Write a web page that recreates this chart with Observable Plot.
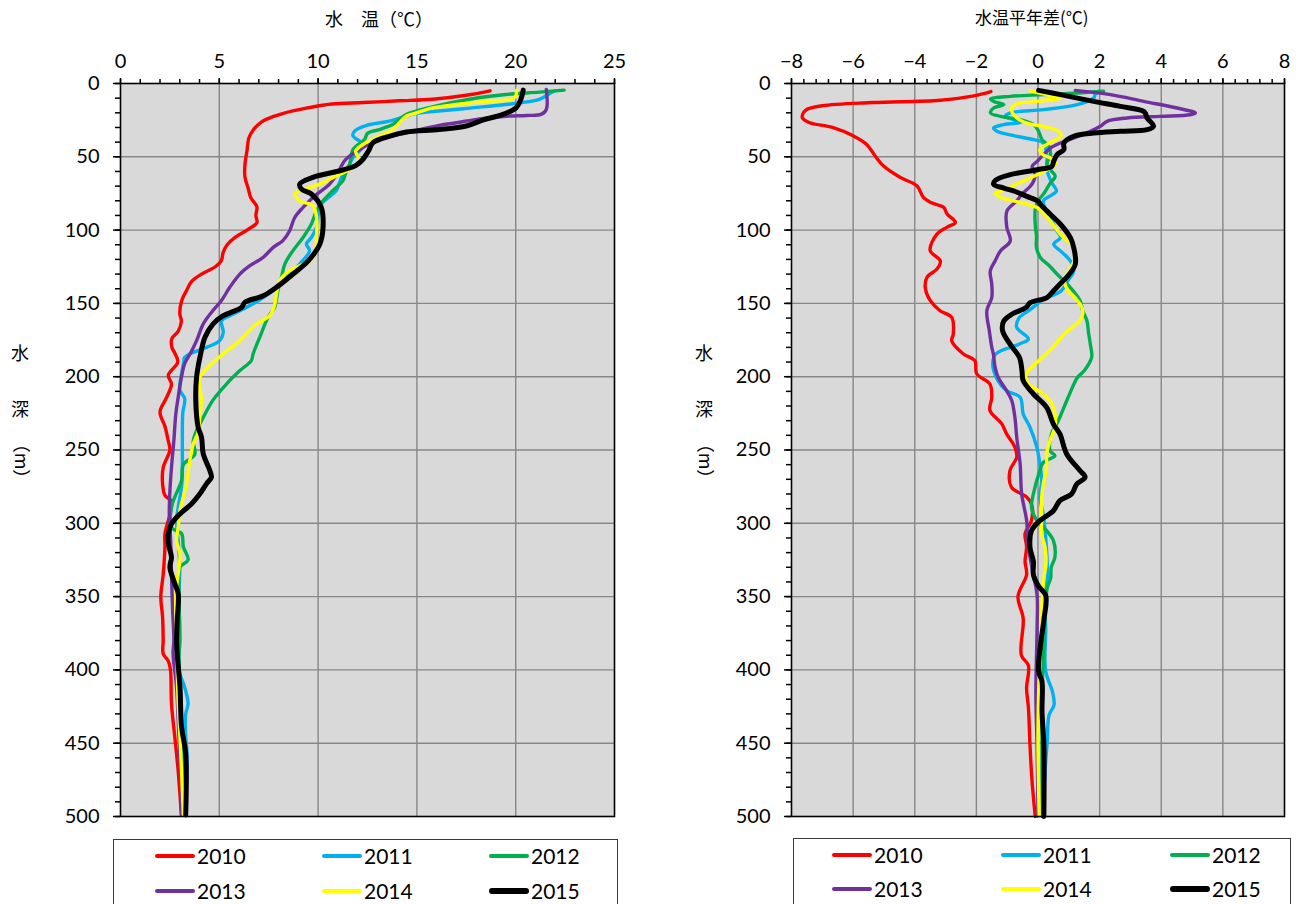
<!DOCTYPE html>
<html><head><meta charset="utf-8">
<script src="https://cdn.jsdelivr.net/npm/d3@7"></script>
<script src="https://cdn.jsdelivr.net/npm/@observablehq/plot@0.6"></script>
<style>
body{margin:0;background:#fff;}
#wrap{position:relative;width:1313px;height:904px;overflow:hidden;font-family:Lato,"Noto Sans CJK JP",sans-serif;color:#000;}
.abs{position:absolute;white-space:nowrap;}
.cjk{font-family:"Noto Sans CJK JP",sans-serif;}
.legbox{position:absolute;border:1px solid #3a3a3a;background:#fff;box-sizing:border-box;}
</style></head><body><div id="wrap"></div>
<script>
const years = ["2010","2011","2012","2013","2014","2015"];
const colors = ["#FF0000","#00B0F0","#00B050","#7030A0","#FFFF00","#000000"];
const lineWidths = [3.4,3.4,3.4,3.4,3.4,5];
const tempMajor = [0,5,10,15,20,25];
const anomMajor = [-8,-6,-4,-2,0,2,4,6,8];
const depthMajor = [0,50,100,150,200,250,300,350,400,450,500];

// 水温 [depth m, temp °C]
const t2010 = [[5,18.7],[8,17.5],[10.7,15.8],[11.8,14.1],[13,12.3],[14,10.7],[16.8,9.4],[20.5,8.2],[24.3,7.4],[26.6,7.1],[32,6.7],[37,6.5],[46,6.4],[55,6.3],[64,6.3],[71,6.45],[78,6.6],[84,6.9],[90,6.85],[95,6.9],[100,6.4],[105,5.8],[110,5.4],[115,5.2],[121,5.1],[125,4.8],[130,4.1],[135,3.6],[141,3.35],[148,3.1],[157,3.0],[162,3.08],[169,2.92],[174,2.6],[180,2.6],[184,2.75],[190,2.9],[199,2.42],[205,2.58],[214,2.34],[224,2.0],[234,2.25],[244,2.42],[250,2.5],[262,2.16],[273,2.13],[281,2.25],[285,2.58],[294,2.5],[307,2.25],[316,2.25],[335,2.16],[350,2.04],[364,2.13],[380,2.16],[389,2.16],[394,2.42],[400,2.53],[423,2.58],[446,2.75],[469,2.92],[499,3.08]];
const t2011 = [[5,22.0],[7,21.7],[10.9,21.2],[14.3,19.5],[16.6,17.8],[18.8,16.1],[20.4,14.95],[25.7,13.6],[28.6,12.45],[32.5,11.85],[35.5,11.76],[39.3,12.1],[41.6,12.35],[46,12.1],[50.5,11.77],[56,11.55],[61.8,11.26],[67,11.1],[73,10.92],[78.8,10.43],[82.2,10.16],[90,10.0],[97,9.95],[105,9.66],[109.5,9.41],[114,9.57],[123,9.08],[130,8.56],[139,7.9],[146,7.22],[152.7,6.38],[158.4,5.54],[161.8,5.11],[169.8,5.2],[175.4,5.02],[180,4.35],[183.4,3.68],[186.8,3.25],[190,3.2],[198,3.09],[209,3.0],[215,3.25],[225,3.15],[244,3.13],[262,3.13],[275,3.09],[289,2.92],[298,2.84],[312,2.92],[330,3.0],[348,2.96],[380,3.0],[400,2.96],[412,3.25],[423,3.42],[430,3.3],[446,3.3],[457,3.37],[499,3.25]];
const t2012 = [[4.5,22.45],[5.9,21.2],[7.5,19.5],[10.4,17.8],[15,16.1],[18.8,14.95],[21.1,14.46],[24.5,14.1],[28,13.77],[31.4,13.1],[34,12.5],[38.2,12.35],[45,11.77],[55,11.6],[61,11.4],[66.3,11.26],[73,10.75],[80,10.25],[86.8,9.92],[95.9,9.66],[105,9.24],[114,8.73],[123,8.32],[132,8.15],[141,7.97],[152.7,7.8],[159.5,7.47],[173,7.05],[184.5,6.71],[189,6.62],[196,6.03],[205,5.36],[216,4.68],[228,4.18],[237,3.84],[244,3.68],[253,3.76],[260,3.18],[271,3.09],[282,2.75],[289,2.58],[303,2.58],[307,3.09],[316,3.18],[325,3.42],[330,3.0],[346,2.96],[380,3.0],[389,2.96],[423,3.01],[469,3.18],[499,3.25]];
const t2013 = [[4.1,21.55],[17.7,21.55],[21.1,21.28],[21.8,20.55],[22.3,19.52],[24.1,18.17],[26.8,17.0],[28.6,16.13],[33.6,14.46],[38.2,13.11],[45,12.1],[51.8,11.4],[57,11.15],[62,10.95],[68.6,10.58],[77.7,9.74],[84.5,9.24],[91.4,8.82],[100.4,8.56],[107,8.23],[111.8,7.73],[118.6,7.22],[124.3,6.55],[130,6.04],[139,5.53],[148,5.11],[156,4.61],[164,4.19],[175.4,3.85],[183,3.58],[191,3.25],[200,3.09],[214,2.92],[225.4,2.8],[243.6,2.7],[262,2.58],[278,2.5],[293.6,2.47],[312,2.54],[334.5,2.58],[357,2.63],[380,2.7],[389,2.66],[412,2.84],[434.5,2.92],[462,3.01],[499,3.09]];
const t2014 = [[4.5,20.05],[8.6,20.0],[10.9,19.77],[12,18.67],[14.3,17.0],[16.6,15.8],[20,14.97],[22.3,14.46],[26.8,14.12],[31.4,13.77],[35.9,13.11],[41.6,12.27],[46.1,11.9],[49.5,12.0],[52.7,12.1],[56,11.9],[60,11.4],[63,10.92],[68.6,10.09],[73.2,9.07],[75.4,8.82],[80,9.07],[83.4,9.74],[91.4,9.92],[105,9.92],[116.3,9.83],[121,9.57],[127.7,8.56],[134.5,8.06],[143.6,7.89],[150.4,7.81],[158.4,7.56],[164,6.88],[175.4,6.04],[184.5,5.2],[193.6,4.43],[200.4,4.02],[209.5,4.02],[214,4.1],[227.7,4.01],[238,3.93],[246,3.68],[257,3.51],[273,3.34],[282,3.18],[291,3.01],[302.7,2.92],[312,2.84],[321,3.01],[334.5,2.92],[348,2.8],[380,2.84],[400,2.87],[423,2.92],[446,3.01],[469,3.09],[499,3.18]];
const t2015 = [[4.5,20.38],[10.9,20.26],[16.6,20.02],[21.1,19.35],[25,18.33],[29,17.5],[31.4,16.13],[33.1,14.46],[35.9,13.63],[40.4,12.78],[46,12.55],[52,12.25],[56,11.9],[59.5,11.1],[64,9.74],[68.6,9.07],[72,9.16],[75.4,9.66],[84.5,10.16],[98.2,10.25],[109.5,10.09],[121,9.5],[130,8.73],[139,7.89],[144.8,7.22],[149.3,6.29],[152.7,6.13],[158.4,5.2],[164,4.69],[173.2,4.27],[186.8,4.02],[200.4,3.85],[216.3,3.81],[234.5,3.93],[241.3,4.1],[252.7,4.19],[264,4.52],[268.6,4.6],[273.1,4.35],[280,4.01],[286.8,3.59],[293.6,3.01],[300.4,2.58],[307.2,2.42],[314,2.42],[323.1,2.58],[330,2.5],[341.3,2.75],[348,2.92],[366.3,2.87],[380,2.84],[389,2.87],[412,3.01],[439,3.09],[457,3.3],[499,3.3]];

// 水温平年差 [depth m, anomaly °C]
const a2010 = [[5.5,-1.53],[8.4,-2.08],[11.4,-3.17],[13,-5.36],[15.2,-7.0],[18.2,-7.54],[23.2,-7.65],[26.6,-7.43],[30,-6.67],[35.7,-6.0],[41.4,-5.57],[50.5,-5.25],[56,-5.03],[64,-4.48],[69.8,-3.93],[77.7,-3.72],[81,-3.5],[84.5,-3.06],[89,-2.95],[94.8,-2.68],[98,-2.95],[102.7,-3.28],[114,-3.5],[121,-3.17],[126.6,-3.28],[132,-3.6],[139,-3.66],[148,-3.5],[155,-3.18],[159.5,-2.8],[171,-2.75],[175.5,-2.8],[184.5,-2.42],[189,-2.05],[198,-1.99],[205,-1.56],[214,-1.5],[223,-1.56],[232,-1.18],[239,-1.02],[248,-0.75],[255,-0.69],[264,-0.91],[275.5,-0.86],[282,-0.37],[287,-0.21],[298,-0.21],[307,-0.42],[316,-0.37],[326,-0.42],[335,-0.37],[350,-0.65],[365,-0.48],[390,-0.54],[397,-0.31],[412.5,-0.37],[426,-0.31],[451,-0.26],[474,-0.2],[500,-0.09]];
const a2011 = [[5,2.0],[7.3,1.86],[9.9,1.81],[14.4,1.27],[17.8,0.18],[20.1,-0.9],[22.4,-1.06],[24.7,-0.79],[26.5,-0.57],[28,-1.11],[30.3,-1.44],[32.6,-1.33],[35.6,-0.79],[38.3,-0.14],[40.6,0.18],[49.7,0.29],[58.8,0.29],[67.8,0.45],[73.3,0.6],[76,0.45],[80,0.18],[86,0.25],[91.5,0.4],[100,0.6],[105,0.73],[109.7,0.51],[114.2,0.73],[121,1.05],[127.9,1.16],[134.7,0.96],[141.5,0.75],[147,0.2],[150,0.0],[155,-0.3],[160,-0.62],[166.4,-0.69],[174.3,-0.31],[177.7,-0.6],[184.5,-1.37],[191.4,-1.47],[202.7,-1.3],[209.5,-1.02],[214,-0.58],[225.5,-0.48],[234.5,-0.26],[248,-0.04],[259.5,0.06],[271,0.12],[282.3,0.06],[293.6,0.17],[305,0.23],[327.7,0.3],[337.5,0.3],[349,0.22],[371.6,0.25],[401,0.25],[414.8,0.47],[424,0.52],[430.7,0.36],[449,0.3],[462.5,0.25],[485,0.19],[500,0.16]];
const a2012 = [[5.3,2.13],[6.5,1.27],[7.6,0.18],[8.75,-0.9],[10.6,-1.54],[12.2,-1.44],[14.4,-1.11],[16.7,-1.44],[20.1,-1.54],[22.4,-1.22],[24.7,-0.57],[28,-0.14],[32.6,0.02],[38.3,0.13],[42.8,0.35],[49.7,0.4],[54.2,0.29],[58.8,0.4],[63.3,0.56],[67.8,0.4],[74.7,0.2],[80.3,0.0],[86,-0.09],[96,-0.09],[104,-0.05],[112,-0.05],[118.8,0.08],[124,0.35],[130,0.62],[139.2,1.05],[148.3,1.37],[155,1.45],[162,1.59],[170,1.64],[178,1.7],[186.8,1.74],[195.9,1.5],[200.5,1.28],[214,0.98],[230,0.66],[239,0.44],[250.5,0.39],[254,0.55],[258.4,0.17],[264,0.06],[280,-0.15],[289,-0.21],[298,-0.04],[305,0.28],[311.8,0.5],[323,0.55],[330,0.43],[337.5,0.41],[344,0.3],[355.7,0.25],[383,0.19],[417,0.13],[451,0.13],[500,0.13]];
const a2013 = [[4.7,1.21],[7.6,2.35],[12.2,3.43],[16.7,4.51],[20.1,5.11],[21.3,4.94],[22.4,3.97],[23.5,2.89],[25.8,2.24],[29.2,2.02],[32.6,1.7],[37.2,1.16],[40.6,0.73],[44,0.4],[48.5,0.18],[53.1,-0.03],[56.5,-0.19],[62.2,-0.09],[66.5,-0.14],[70.1,-0.25],[75,-0.5],[80.3,-0.7],[87,-1.01],[98.3,-1.01],[107.4,-0.9],[114.2,-1.22],[121,-1.39],[127.9,-1.55],[137,-1.5],[146,-1.5],[155,-1.66],[168.7,-1.58],[180,-1.5],[184.5,-1.45],[193.8,-1.39],[200.5,-1.29],[209.5,-1.02],[216.4,-0.85],[227.7,-0.75],[241.4,-0.69],[259.5,-0.58],[280,-0.53],[298,-0.37],[316.4,-0.31],[335,-0.15],[349,-0.03],[371.6,-0.03],[417,-0.07],[451,-0.03],[500,0]];
const a2014 = [[5,-0.25],[7.6,0.29],[9.7,0.75],[12.2,-0.03],[14.2,-0.72],[18,-0.86],[23.5,-0.68],[27,-0.36],[29.5,0.2],[32.6,0.67],[36,0.75],[40.6,0.37],[45,0.06],[48.5,0.15],[50.8,0.4],[54.5,0.58],[59.9,0.2],[63.3,-0.14],[65.6,-0.36],[68.5,-0.7],[72.4,-1.05],[74.8,-1.38],[77.9,-1.17],[81,-0.6],[84.7,-0.03],[93.8,0.4],[102.9,0.73],[112,1.16],[118.6,1.24],[124,1.1],[127.9,1.0],[134.6,0.86],[141.4,0.98],[146,1.2],[152.9,1.43],[157.3,1.45],[161.8,1.36],[166.5,1.1],[170.9,0.85],[175.5,0.66],[182.3,0.37],[189,0.03],[196,-0.32],[200,-0.4],[205,-0.3],[209.5,0.01],[216.4,0.39],[225.5,0.55],[234.5,0.55],[243.6,0.39],[252.7,0.28],[261.8,0.28],[273.2,0.17],[282.3,0.12],[293.6,0.12],[307.3,0.12],[316.4,0.23],[327.7,0.26],[337.5,0.19],[353.4,0.13],[383,0.08],[417,0.02],[451,0],[500,0.04]];
const a2015 = [[4.7,0.02],[7.6,0.73],[12.2,1.81],[15.6,2.67],[19,3.43],[21,3.5],[23.5,3.54],[29.2,3.75],[31.5,3.54],[32.6,2.67],[33.8,1.81],[36,1.16],[40.6,0.84],[45.1,0.84],[48.5,0.62],[53.1,0.51],[56.5,0.45],[58.8,-0.03],[62.2,-0.9],[66,-1.38],[68.8,-1.44],[71.3,-1.11],[74,-0.7],[77,-0.36],[80.3,0.0],[82.4,0.08],[89.2,0.4],[96,0.73],[105.1,1.05],[112,1.16],[123.3,1.21],[132,0.94],[136,0.75],[141.5,0.5],[146,0.29],[149.5,-0.25],[153,-0.4],[157.4,-0.85],[162,-1.11],[168.7,-1.15],[178,-0.9],[187,-0.6],[196,-0.52],[202.7,-0.48],[211.8,-0.15],[220.9,0.28],[232.3,0.5],[239,0.71],[252.7,0.93],[264,1.36],[268.6,1.53],[273.2,1.26],[280,1.09],[284.5,0.71],[291.4,0.5],[298.2,0.06],[305,-0.21],[316.4,-0.26],[326,-0.15],[335,-0.15],[343,0.02],[349,0.25],[366,0.19],[383,0.08],[401,0.02],[408,0.13],[428.4,0.13],[451,0.19],[500,0.19]];

const tempSeries = [t2010,t2011,t2012,t2013,t2014,t2015];
const anomSeries = [a2010,a2011,a2012,a2013,a2014,a2015];

const wrap = document.getElementById("wrap");
const minorOf = (lo, hi, step) => d3.range(Math.round((hi - lo) / step) + 1).map(i => +(lo + i * step).toFixed(4));

function panel(series, xDomain, xMajor, xMinorStep, width, marginLeft, marginRight) {
  const xMinor = minorOf(xDomain[0], xDomain[1], xMinorStep);
  const yMinor = minorOf(0, 500, 10);
  const gridStyle = {stroke: "#878787", strokeOpacity: 1, strokeWidth: 1.4};
  const marks = [
    Plot.frame({fill: "#D9D9D9", stroke: null}),
    Plot.gridX(xMajor.slice(1, -1), gridStyle),
    Plot.gridY(depthMajor.slice(1, -1), gridStyle),
    ...series.map((s, i) => Plot.line(s, {
      x: d => d[1], y: d => d[0], stroke: colors[i], strokeWidth: lineWidths[i],
      curve: "catmull-rom", strokeLinejoin: "round", strokeLinecap: "round"
    })),
    Plot.frame({stroke: "#000", strokeWidth: 1.6}),
    Plot.axisX({ticks: xMinor, anchor: "top", tickSize: 5, tickFormat: () => "", strokeWidth: 1.5, label: null}),
    Plot.axisX({ticks: xMajor, anchor: "top", tickSize: 6, tickPadding: 10, strokeWidth: 1.5, label: null, fontSize: 20}),
    Plot.axisY({ticks: yMinor, anchor: "left", tickSize: 5, tickFormat: () => "", strokeWidth: 1.5, label: null}),
    Plot.axisY({ticks: depthMajor, anchor: "left", tickSize: 7, tickPadding: 14, strokeWidth: 1.5, label: null, fontSize: 20})
  ];
  return Plot.plot({
    width, height: 830, marginTop: 83, marginBottom: 14, marginLeft, marginRight,
    x: {domain: xDomain, label: null},
    y: {domain: [0, 500], reverse: true, label: null},
    style: {fontFamily: "Lato, 'Noto Sans CJK JP', sans-serif", fontSize: "20px", color: "#000", background: "transparent", overflow: "visible"},
    marks
  });
}

function place(node, left, top) {
  node.style.position = "absolute";
  node.style.left = left + "px";
  node.style.top = top + "px";
  wrap.appendChild(node);
}

place(panel(tempSeries, [0, 25], tempMajor, 1, 650, 120, 36), 0, 0);
place(panel(anomSeries, [-8, 8], anomMajor, 0.4, 653, 131, 29), 660, 0);

function addText(txt, left, top, size, cls, extra) {
  const d = document.createElement("div");
  d.className = "abs " + (cls || "");
  d.textContent = txt;
  d.style.left = left + "px";
  d.style.top = top + "px";
  d.style.fontSize = size + "px";
  d.style.lineHeight = "1";
  if (extra) Object.assign(d.style, extra);
  wrap.appendChild(d);
  return d;
}

// titles
addText("水　温（℃）", 325, 9, 18, "cjk");
addText("水温平年差(℃)", 975, 8, 17, "cjk");

// y axis labels (vertical)
function yLabel(cx) {
  addText("水", cx - 9, 343, 18, "cjk");
  addText("深", cx - 9, 399, 18, "cjk");
  addText("（m）", cx - 23, 452, 18, "cjk", {transform: "rotate(90deg)", transformOrigin: "50% 50%"});
}
yLabel(20);
yLabel(704);

// legends
function legend(box, cols, rows) {
  const b = document.createElement("div");
  b.className = "legbox";
  Object.assign(b.style, {left: box[0] + "px", top: box[1] + "px", width: box[2] + "px", height: box[3] + "px"});
  wrap.appendChild(b);
  years.forEach((y, i) => {
    const cx = cols[i % 3], cy = rows[Math.floor(i / 3)];
    const ln = document.createElement("div");
    Object.assign(ln.style, {position: "absolute", left: cx + "px", top: (cy - lineWidths[i] / 2 - 0.5) + "px",
      width: "40px", height: (lineWidths[i] + 1) + "px", background: colors[i], borderRadius: "3px"});
    wrap.appendChild(ln);
    addText(y, cx + 42, cy - 11, 21, "");
  });
}
legend([113, 839, 505, 80], [155, 322, 489], [856, 891]);
legend([793, 838, 498, 80], [832, 1001, 1170], [855, 889]);
</script></body></html>
